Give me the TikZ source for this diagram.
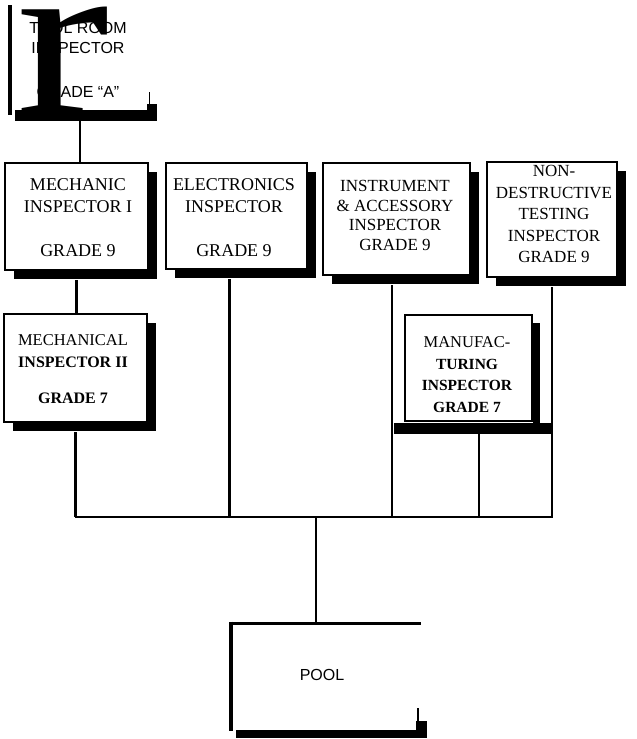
\documentclass[tikz,border=0pt]{standalone}
\usepackage{graphicx}
\usepackage{fontspec}
\setmainfont{Liberation Serif}
\newfontfamily\sansfam{Liberation Sans}
\usetikzlibrary{shadows}
\begin{document}
\begin{tikzpicture}[x=1pt,y=-1pt,
  box/.style={draw, line width=2pt, fill=white, rectangle, inner sep=0pt,
    drop shadow={shadow xshift=9pt, shadow yshift=-9pt, fill=black, opacity=1}},
  plainbox/.style={draw, line width=2pt, fill=white, rectangle, inner sep=0pt},
  conn/.style={line width=2.2pt},
  bigtxt/.style={inner sep=0pt, align=center, font=\fontsize{18}{22}\selectfont},
  midtxt/.style={inner sep=0pt, align=center, font=\fontsize{17}{20}\selectfont},
  sanstxt/.style={inner sep=0pt, align=center, font=\sansfam\fontsize{16}{20}\selectfont}
]
\useasboundingbox (0,0) rectangle (637,739);

% ---- coordinates for connector ends
\coordinate (trbar) at (80,121);
\coordinate (bus) at (316,517);
\coordinate (poolTop) at (316,623);

% ---- boxes
\node[box, minimum width=143pt, minimum height=107pt] (mech1) at (76.5,216.5) {};
\node[box, minimum width=141pt, minimum height=106pt] (elec) at (236.5,216) {};
\node[box, minimum width=147pt, minimum height=112pt] (instr) at (396.5,219) {};
\node[box, minimum width=130pt, minimum height=115pt] (ndt) at (552,219.5) {};
\node[box, minimum width=143pt, minimum height=108pt] (mech2) at (75.5,368) {};

\draw[conn] (trbar) -- (trbar |- mech1.north);
\draw[conn] ([yshift=-9pt]mech1.south) -- (mech1.south |- mech2.north);
\draw[conn] ([xshift=-7pt,yshift=-9pt]elec.south) -- ([xshift=-7pt]elec.south |- bus);
\draw[conn] ([xshift=-4.5pt,yshift=-9pt]instr.south) -- ([xshift=-4.5pt]instr.south |- bus);
\draw[conn] ([yshift=-9pt]ndt.south) -- ([yshift=1pt]ndt.south |- bus);
\draw[conn] ([yshift=-9pt]mech2.south) -- (mech2.south |- bus);
\draw[conn] ([xshift=-1pt]mech2.south |- bus) -- ([xshift=1pt]ndt.south |- bus);
\draw[conn] (bus) -- (poolTop);

% ---- manufacturing box with its own shadow bar
\node[plainbox, minimum width=127pt, minimum height=106pt] (manuf) at (468.5,368) {};
\fill (533,323) rectangle (540,423);
\fill (394,423) rectangle (552,434);
\coordinate (manufBar) at (479,434);
\draw[conn] (manufBar) -- (manufBar |- bus);

% ---- box texts
\node[bigtxt] (mech1T) at (78,218) {MECHANIC\\INSPECTOR I\\[22pt]GRADE 9};
\node[bigtxt] (elecT) at (234,218) {ELECTRONICS\\INSPECTOR\\[22pt]GRADE 9};
\node[midtxt, font=\fontsize{17}{19.7}\selectfont] (instrT) at (395,215.5) {INSTRUMENT\\\& ACCESSORY\\INSPECTOR\\GRADE 9};
\node[midtxt, font=\fontsize{17}{21.5}\selectfont] (ndtT) at (554,214) {NON-\\DESTRUCTIVE\\TESTING\\INSPECTOR\\GRADE 9};
\node[midtxt, font=\fontsize{16.5}{22}\selectfont] (mech2T) at (73,369) {MECHANICAL\\\textbf{\fontsize{16}{22}\selectfont INSPECTOR II}\\[14pt]\textbf{\fontsize{16}{22}\selectfont GRADE 7}};
\node[midtxt, font=\fontsize{16.5}{21.7}\selectfont] (manufT) at (467,374.5) {MANUFAC-\\\textbf{\fontsize{15.5}{21.7}\selectfont TURING}\\\textbf{\fontsize{15.5}{21.7}\selectfont INSPECTOR}\\\textbf{\fontsize{15.5}{21.7}\selectfont GRADE 7}};

% ---- tool room inspector (open frame)
\node[sanstxt] (toolT) at (78,60) {TOOL ROOM\\INSPECTOR\\[24pt]GRADE “A”};
\node[inner sep=0pt, anchor=base west, font=\fontsize{226}{226}\selectfont] (bigr) at (16,113) {\scalebox{1.24}[1]{r}};
\draw[line width=4pt] (9.5,5) -- (9.5,115);
\fill (15,110) rectangle (157,121);
\fill (147,104) rectangle (157,112);
\draw[line width=1.5pt] (149.5,92) -- (149.5,105);

% ---- pool (open frame)
\draw[line width=3pt] (229,623) -- (421,623);
\draw[line width=4pt] (231,621.5) -- (231,731);
\fill (236,730) rectangle (427,738);
\fill (416,721) rectangle (427,730);
\draw[line width=1.5pt] (418,708) -- (418,722);
\node[sanstxt] (pool) at (322,675) {POOL};
\end{tikzpicture}
\end{document}
